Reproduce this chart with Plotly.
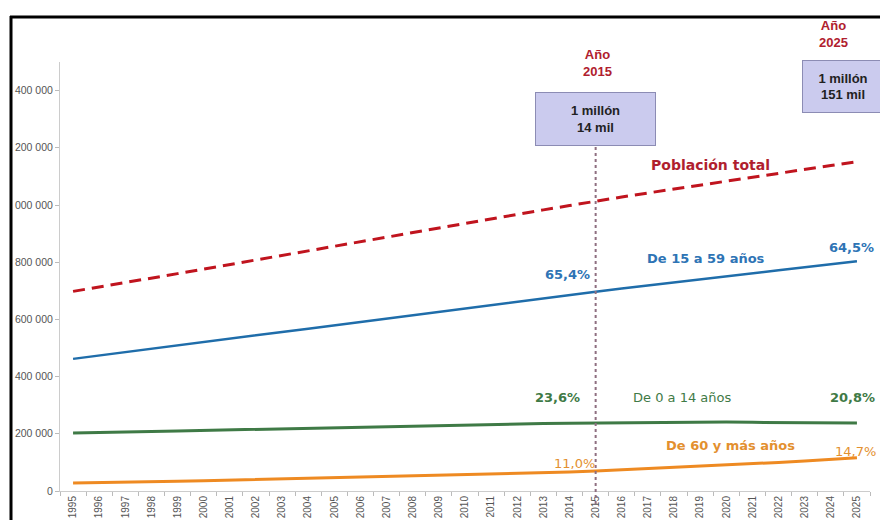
import plotly.graph_objects as go

years = [str(y) for y in range(1995, 2026)]
total = [698, 713, 729, 745, 760, 776, 792, 808, 824, 840, 856, 872, 888, 904, 920, 937,
         952, 967, 983, 998, 1014, 1028, 1042, 1056, 1070, 1084, 1097, 1111, 1124, 1138, 1151]
age_15_59 = [462, 474, 486, 497, 509, 521, 532, 544, 556, 567, 579, 591, 603, 615, 627, 639,
             650, 662, 674, 685, 697, 708, 719, 729, 740, 751, 761, 772, 782, 793, 803]
age_0_14 = [203, 204, 206, 208, 210, 212, 214, 216, 218, 220, 222, 224, 226, 228, 230, 232,
            234, 235, 236, 237, 238, 239, 240, 240, 241, 241, 240, 239, 238, 238, 238]
age_60 = [28, 29, 31, 32, 34, 36, 38, 40, 42, 44, 46, 48, 50, 52, 54, 56,
          58, 61, 63, 66, 70, 74, 78, 82, 86, 90, 95, 100, 105, 110, 116]
ytick_vals = [0, 200000, 400000, 600000, 800000, 1000000, 1200000, 1400000]
ytick_text = ["0", "200 000", "400 000", "600 000", "800 000", "1 000 000", "1 200 000", "1 400 000"]

W, H = 880, 520
L, R, T, B = 60, 10, 62, 29
PW, PH = W - L - R, H - T - B


def px(x):
    return (x - L) / PW


def py(y):
    return (H - B - y) / PH


fig = go.Figure()
series = [
    (total, "Población total", "#C0141E", "12px,7px", 3),
    (age_15_59, "De 15 a 59 años", "#1F6DAA", "solid", 2.5),
    (age_0_14, "De 0 a 14 años", "#3F7A46", "solid", 3),
    (age_60, "De 60 y más años", "#EE8A22", "solid", 3),
]
for vals, name, col, dash, w in series:
    fig.add_trace(go.Scatter(x=years, y=[v * 1000 for v in vals], mode="lines", name=name,
                             line=dict(color=col, dash=dash, width=w), showlegend=False))

LAB = "DejaVu Sans"
ARIAL = "Liberation Sans, Arial"
ann = []


def txt(x, y, s, color, size, family=LAB, bold=True, **kw):
    ann.append(dict(x=px(x), y=py(y), xref="paper", yref="paper", text=(f"<b>{s}</b>" if bold else s),
                    showarrow=False, font=dict(color=color, size=size, family=family),
                    xanchor="center", yanchor="middle", **kw))


txt(597, 63, "Año<br>2015", "#B0202E", 13, ARIAL)
txt(833, 34, "Año<br>2025", "#B0202E", 13, ARIAL)
# boxes
ann.append(dict(x=px(595.5), y=py(119), xref="paper", yref="paper", text="<b>1 millón<br>14 mil</b>",
                showarrow=False, font=dict(color="#222", size=13, family=ARIAL),
                bgcolor="#CBCBEE", bordercolor="#8C8CB4", borderwidth=1, width=117, height=50,
                xanchor="center", yanchor="middle"))
ann.append(dict(x=px(843), y=py(86.5), xref="paper", yref="paper", text="<b>1 millón<br>151 mil</b>",
                showarrow=False, font=dict(color="#222", size=13, family=ARIAL),
                bgcolor="#CBCBEE", bordercolor="#8C8CB4", borderwidth=1, width=78, height=49,
                xanchor="center", yanchor="middle"))
txt(710, 165, "Población total", "#B01E2E", 14)
txt(706, 258, "De 15 a 59 años", "#2E74B5", 13)
txt(567, 274, "65,4%", "#2E74B5", 13)
txt(851, 247, "64,5%", "#2E74B5", 13)
txt(557, 397, "23,6%", "#3F7A46", 13)
txt(682, 397, "De 0 a 14 años", "#3F7A46", 13, bold=False)
txt(852, 397, "20,8%", "#3F7A46", 13)
txt(730, 445, "De 60 y más años", "#E3902F", 13)
txt(574, 463, "11,0%", "#E3902F", 13, bold=False)
txt(855, 451, "14,7%", "#E3902F", 13, bold=False)

shapes = [
    # 2015 dotted line
    dict(type="line", xref="paper", yref="paper", x0=20.5 / 31, x1=20.5 / 31, y0=py(147), y1=py(505),
         line=dict(color="#8E6F80", width=2, dash="dot"), layer="above"),
    # white margin left of frame (crops tick labels)
    dict(type="rect", xref="paper", yref="paper", x0=px(-5), x1=px(11), y0=py(530), y1=py(-5),
         fillcolor="white", line=dict(width=0), layer="above"),
    dict(type="rect", xref="paper", yref="paper", x0=px(-5), x1=px(885), y0=py(16), y1=py(-5),
         fillcolor="white", line=dict(width=0), layer="above"),
    # frame
    dict(type="line", xref="paper", yref="paper", x0=px(10), x1=px(885), y0=py(17), y1=py(17),
         line=dict(color="black", width=3), layer="above"),
    dict(type="line", xref="paper", yref="paper", x0=px(11), x1=px(11), y0=py(16), y1=py(525),
         line=dict(color="black", width=3), layer="above"),
]

fig.update_layout(
    width=W, height=H, autosize=False,
    margin=dict(l=L, r=R, t=T, b=B, pad=0),
    paper_bgcolor="white", plot_bgcolor="white",
    annotations=ann, shapes=shapes, showlegend=False,
    xaxis=dict(type="category", range=[-0.5, 30.5], tickson="boundaries", ticks="outside", ticklen=4,
               tickcolor="#BBBBBB", showline=True, linecolor="#CCCCCC", linewidth=1, showgrid=False,
               zeroline=False, tickangle=-90, tickfont=dict(size=10, color="#555", family=ARIAL),
               automargin=False),
    yaxis=dict(range=[0, 1500000], tickvals=ytick_vals, ticktext=ytick_text, ticks="outside", ticklen=4,
               tickcolor="#BBBBBB", showline=True, linecolor="#CCCCCC", linewidth=1, showgrid=False,
               zeroline=False, tickfont=dict(size=10.5, color="#555", family=ARIAL), automargin=False),
)

fig.write_html("out.html")
